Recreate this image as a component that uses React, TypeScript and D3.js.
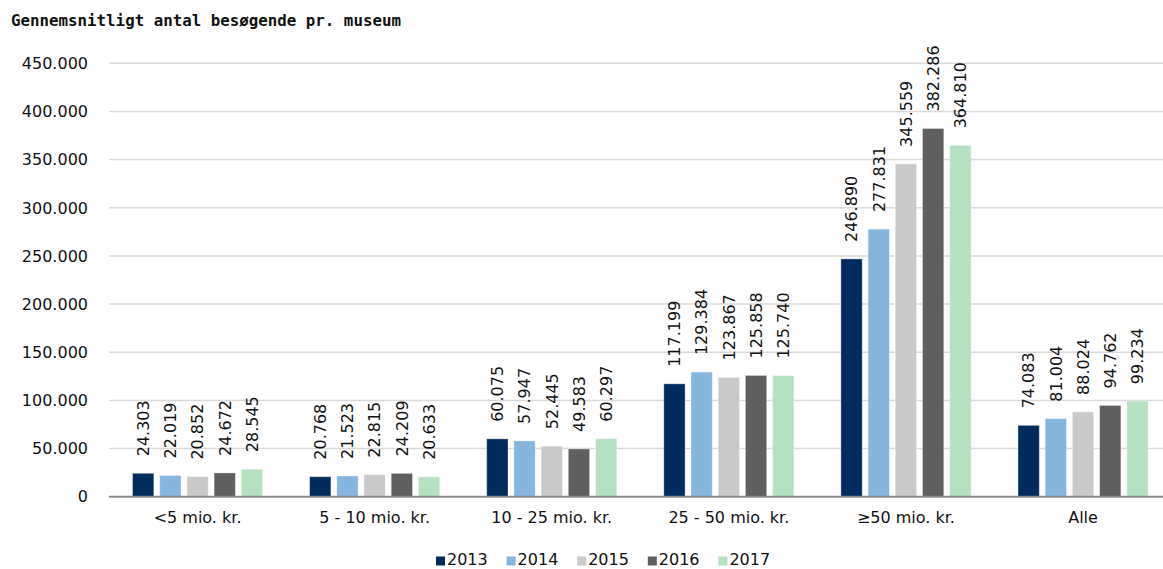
import React from "react";
import * as d3 from "d3";

const categories = ["<5 mio. kr.", "5 - 10 mio. kr.", "10 - 25 mio. kr.", "25 - 50 mio. kr.", "≥50 mio. kr.", "Alle"];
const years = ["2013", "2014", "2015", "2016", "2017"];
const v2013 = [24303, 20768, 60075, 117199, 246890, 74083];
const v2014 = [22019, 21523, 57947, 129384, 277831, 81004];
const v2015 = [20852, 22815, 52445, 123867, 345559, 88024];
const v2016 = [24672, 24209, 49583, 125858, 382286, 94762];
const v2017 = [28545, 20633, 60297, 125740, 364810, 99234];
const seriesValues = [v2013, v2014, v2015, v2016, v2017];
const colors = ["#002B5C", "#86B5DE", "#C9C9C9", "#5F5F5F", "#B5E1C1"];
const yTicks = [0, 50000, 100000, 150000, 200000, 250000, 300000, 350000, 400000, 450000];
const title = "Gennemsnitligt antal besøgende pr. museum";

const W = 1163;
const H = 569;
const FONT = "'DejaVu Sans', sans-serif";

const fmt = (v: number) => (v === 0 ? "0" : d3.format(",")(v).replace(/,/g, "."));

export default function App() {
  const x0 = d3.scaleBand<string>().domain(categories).range([109, 1171.6]).padding(0);
  const x1 = d3.scaleBand<string>().domain(years).range([-65.05, 65.05]).paddingInner(0.217).paddingOuter(0);
  const y = d3.scaleLinear().domain([0, 450000]).range([496.7, 63.3]);

  return (
    <svg width={W} height={H} style={{ position: "absolute", left: 0, top: 0, background: "#fff" }} fontFamily={FONT}>
      <text x={11} y={26} fontFamily="'DejaVu Sans Mono', monospace" fontWeight="bold" fontSize={15.8} fill="#111">
        {title}
      </text>
      {yTicks.map((t) => (
        <g key={t}>
          {t > 0 && <line x1={109} x2={W} y1={y(t)} y2={y(t)} stroke="#D9D9D9" strokeWidth={1.5} />}
          <text x={88} y={y(t)} dy="0.36em" textAnchor="end" fontSize={16} fill="#111">
            {fmt(t)}
          </text>
        </g>
      ))}
      {categories.map((c, ci) => {
        const cx = (x0(c) ?? 0) + x0.bandwidth() / 2;
        return (
          <g key={c}>
            {years.map((yr, si) => {
              const v = seriesValues[si][ci];
              const bx = cx + (x1(yr) ?? 0);
              const bw = x1.bandwidth();
              const top = y(v);
              const lx = bx + bw / 2;
              const ly = top - 17;
              return (
                <g key={yr}>
                  <rect x={bx} y={top} width={bw} height={y(0) - top} fill={colors[si]} stroke="#fff" strokeOpacity={0.35} strokeWidth={1} />
                  <text transform={`translate(${lx},${ly}) rotate(-90)`} dy="0.36em" textAnchor="start" fontSize={16} fill="#111">
                    {fmt(v)}
                  </text>
                </g>
              );
            })}
            <text x={cx} y={523} textAnchor="middle" fontSize={16} fill="#111">
              {c}
            </text>
          </g>
        );
      })}
      <line x1={109} x2={W} y1={y(0)} y2={y(0)} stroke="#8C8C8C" strokeWidth={2} />
      {years.map((yr, i) => {
        const lx = 436 + i * 70.6;
        return (
          <g key={yr}>
            <rect x={lx} y={556.5} width={9} height={9} fill={colors[i]} />
            <text x={lx + 11} y={565.3} fontSize={16} fill="#111">
              {yr}
            </text>
          </g>
        );
      })}
    </svg>
  );
}
